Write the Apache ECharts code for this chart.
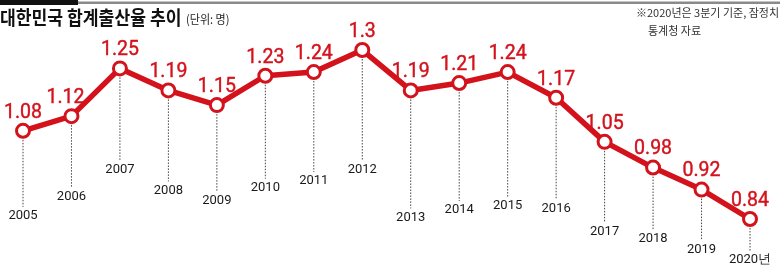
<!DOCTYPE html>
<html><head><meta charset="utf-8">
<script src="https://cdn.jsdelivr.net/npm/echarts@6/dist/echarts.min.js"></script>
<style>html,body{margin:0;padding:0;background:#fff}#c{width:780px;height:270px}</style>
</head><body><div id="c"></div>
<script>
const years = ['2005','2006','2007','2008','2009','2010','2011','2012','2013','2014','2015','2016','2017','2018','2019','2020년'];
const rates = [1.08,1.12,1.25,1.19,1.15,1.23,1.24,1.3,1.19,1.21,1.24,1.17,1.05,0.98,0.92,0.84];
const valueLabels = ['1.08','1.12','1.25','1.19','1.15','1.23','1.24','1.3','1.19','1.21','1.24','1.17','1.05','0.98','0.92','0.84'];
const titleText = '대한민국 합계출산율 추이';
const unitText = '(단위: 명)';
const noteLines = ['※2020년은 3분기 기준, 잠정치', '통계청 자료'];

// layout: how far below each point the year label sits (px), and horizontal nudge of value labels
const labelDrop = [85,81,101,100,96,112,109,120,127,127,134,111,90,71,60,41];
const labelNudgeX = [0,-6,0,0,0,0,0,0,0,0,0,0,0,0,0,0];

const RED = '#d3121c';
const chart = echarts.init(document.getElementById('c'), null, {renderer:'canvas'});
chart.setOption({
  animation:false,
  graphic:[
    {type:'rect', shape:{x:0,y:0,width:78,height:5}, style:{fill:'#111'}},
    {type:'rect', shape:{x:78,y:1.5,width:702,height:2.5}, style:{fill:'#8a8a8a'}},
    {type:'text', x:0, y:8, scaleX:0.88, style:{text:titleText, font:'bold 19.5px "Noto Sans CJK KR"', fill:'#111'}},
    {type:'text', x:186, y:13, scaleX:0.92, style:{text:unitText, font:'12px "Noto Sans CJK KR"', fill:'#222'}},
    {type:'text', left:636, top:7, style:{text:noteLines[0], font:'11px "Noto Sans CJK KR"', fill:'#333'}},
    {type:'text', left:648, top:25, style:{text:noteLines[1], font:'11px "Noto Sans CJK KR"', fill:'#333'}}
  ],
  grid:{left:23, right:30, top:31.65, bottom:36.3},
  xAxis:{type:'category', data:years, boundaryGap:false, show:false},
  yAxis:{type:'value', min:0.8, max:1.35, show:false},
  series:[
    {
      type:'custom',
      z:1,
      data: rates.map((v,i)=>[i,v]),
      encode:{x:0,y:1},
      renderItem:function(params, api){
        const idx = params.dataIndex;
        const p = api.coord([api.value(0), api.value(1)]);
        const drop = labelDrop[idx];
        return {type:'group', children:[
          {type:'line', shape:{x1:p[0], y1:p[1]+6, x2:p[0], y2:p[1]+drop-9},
           style:{stroke:'#444', lineWidth:1, lineDash:[1.5,1.5]}},
          {type:'text', style:{text:years[idx], x:p[0], y:p[1]+drop, align:'center', verticalAlign:'middle',
           font:'13px Roboto', fill:'#1a1a1a'}}
        ]};
      }
    },
    {
      type:'line',
      z:3,
      data: rates.map((v,i)=>({value:v, label:{offset:[labelNudgeX[i],0]}})),
      symbol:'circle',
      symbolSize:13,
      lineStyle:{color:RED, width:5.5},
      itemStyle:{color:'#fff', borderColor:RED, borderWidth:3},
      label:{show:true, position:'top', distance:0, color:RED, fontSize:19.5, fontWeight:'normal', fontFamily:'Roboto',
        textBorderColor:RED, textBorderWidth:0.4,
        formatter:function(p){return valueLabels[p.dataIndex];}}
    }
  ]
});
</script></body></html>
